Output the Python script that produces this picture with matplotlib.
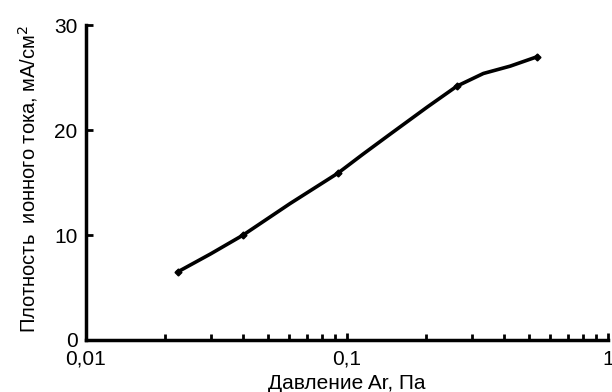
import numpy as np
import matplotlib
matplotlib.use('Agg')
import matplotlib.pyplot as plt
from matplotlib.ticker import LogLocator, FixedLocator, FixedFormatter

plt.rcParams['font.family'] = ['Liberation Sans', 'DejaVu Sans']

# curve (Pa, mA/cm^2)
pressure = [0.0225, 0.030, 0.040, 0.0605, 0.0923, 0.115, 0.146, 0.203, 0.264, 0.333, 0.422, 0.536]
current = [6.5, 8.2, 10.0, 13.0, 15.9, 17.7, 19.6, 22.2, 24.2, 25.4, 26.1, 27.0]
# measured points (markers)
p_pts = [0.0225, 0.040, 0.0923, 0.264, 0.536]
j_pts = [6.5, 10.0, 15.9, 24.2, 27.0]

x_ticks = [0.01, 0.1, 1]
x_labels = ['0,01', '0,1', '1']
y_ticks = [0, 10, 20, 30]

fig = plt.figure(figsize=(6.12, 3.92), dpi=100)
ax = fig.add_axes([0.1405, 0.1327, 0.853, 0.803])

ax.plot(pressure, current, color='black', lw=2.6)
ax.plot(p_pts, j_pts, 'D', color='black', ms=3.5)

ax.set_xscale('log')
ax.set_xlim(0.01, 1)
ax.set_ylim(0, 30)
ax.xaxis.set_major_locator(FixedLocator(x_ticks))
ax.xaxis.set_major_formatter(FixedFormatter(x_labels))
ax.xaxis.set_minor_locator(LogLocator(base=10, subs=np.arange(2, 10)))
ax.xaxis.set_minor_formatter(FixedFormatter([]))
ax.set_yticks(y_ticks)

for s in ['top', 'right']:
    ax.spines[s].set_visible(False)
for s in ['left', 'bottom']:
    ax.spines[s].set_linewidth(2.5)

ax.tick_params(which='major', direction='in', length=5, width=2, labelsize=15)
ax.tick_params(axis='x', which='major', pad=7)
ax.tick_params(axis='y', which='major', pad=6)
ax.tick_params(which='minor', direction='in', length=4, width=2)

ax.set_xlabel('Давление Ar, Па', fontsize=15)
ax.set_ylabel('Плотность  ионного тока, мА/см$^2$', fontsize=14.5)
ax.xaxis.set_label_coords(0.5, -0.108)
ax.yaxis.set_label_coords(-0.088, 0.51)

plt.savefig('out.png', dpi=100)
